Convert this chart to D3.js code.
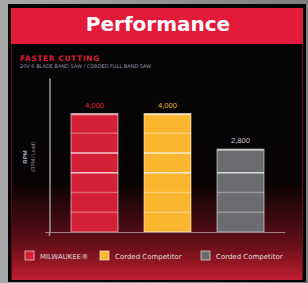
<!DOCTYPE html>
<html>
<head>
<meta charset="utf-8">
<script src="https://cdn.jsdelivr.net/npm/d3@7"></script>
<style>
  body { margin: 0; background: #000; }
  svg { display: block; }
</style>
</head>
<body>
<div id="chart"></div>
<script>
// data
var categories = ["MILWAUKEE®", "Corded Competitor", "Corded Competitor "];
var values = [4000, 4000, 2800];
var valueLabels = ["4,000", "4,000", "2,800"];
var barColors = ["#d42036", "#fbb62f", "#6b6c6f"];
var labelColors = ["#e4263c", "#f2b630", "#c9cdd6"];
var segmentValues = [667, 1333, 2000, 2667, 3333];
var legendLabels = ["MILWAUKEE®", "Corded Competitor", "Corded Competitor"];

var width = 308, height = 283;

var svg = d3.select("#chart")
    .append("svg")
    .attr("width", width)
    .attr("height", height);

var defs = svg.append("defs");

var frameGrad = defs.append("linearGradient")
    .attr("id", "frameGrad")
    .attr("x1", 0).attr("x2", 1).attr("y1", 0).attr("y2", 0);
frameGrad.append("stop").attr("offset", "0%").attr("stop-color", "#a9a9a9");
frameGrad.append("stop").attr("offset", "100%").attr("stop-color", "#7c7c7c");

var bgGrad = defs.append("linearGradient")
    .attr("id", "bgGrad")
    .attr("x1", 0).attr("x2", 0).attr("y1", 0).attr("y2", 1);
bgGrad.append("stop").attr("offset", "0%").attr("stop-color", "#050505");
bgGrad.append("stop").attr("offset", "58%").attr("stop-color", "#070304");
bgGrad.append("stop").attr("offset", "75%").attr("stop-color", "#3f0a10");
bgGrad.append("stop").attr("offset", "86%").attr("stop-color", "#6b1019");
bgGrad.append("stop").attr("offset", "100%").attr("stop-color", "#c21d30");

// outer frame
svg.append("rect")
    .attr("width", width).attr("height", height)
    .attr("fill", "url(#frameGrad)");
svg.append("rect")
    .attr("x", 8).attr("y", 4)
    .attr("width", 298).attr("height", 278)
    .attr("fill", "#050505");

// body
svg.append("rect")
    .attr("x", 11).attr("y", 44)
    .attr("width", 292).attr("height", 236)
    .attr("fill", "url(#bgGrad)");
svg.append("line")
    .attr("x1", 11.5).attr("x2", 11.5)
    .attr("y1", 44).attr("y2", 280)
    .attr("stroke", "#5a0d14").attr("stroke-width", 1);
svg.append("line")
    .attr("x1", 302.5).attr("x2", 302.5)
    .attr("y1", 44).attr("y2", 280)
    .attr("stroke", "#6a0f18").attr("stroke-width", 1);

// header
svg.append("rect")
    .attr("x", 11).attr("y", 8)
    .attr("width", 292).attr("height", 36)
    .attr("fill", "#e31a38");
svg.append("text")
    .attr("x", 158).attr("y", 31)
    .attr("text-anchor", "middle")
    .attr("fill", "#fff")
    .style("font-family", "'DejaVu Sans', sans-serif")
    .style("font-weight", "bold")
    .style("font-size", "20px")
    .text("Performance");

// subtitle
svg.append("text")
    .attr("x", 20).attr("y", 61)
    .attr("fill", "#d61f34")
    .style("font-family", "'DejaVu Sans', sans-serif")
    .style("font-weight", "bold")
    .style("font-size", "7.5px")
    .style("letter-spacing", "0.6px")
    .text("FASTER CUTTING");
svg.append("text")
    .attr("x", 20).attr("y", 68)
    .attr("fill", "#8e96a3")
    .style("font-family", "'DejaVu Sans', sans-serif")
    .style("font-size", "5px")
    .text("20V 6 BLADE BAND SAW / CORDED FULL BAND SAW");

// scales
var x = d3.scaleBand()
    .domain(categories)
    .range([52, 283])
    .paddingInner(0.356)
    .paddingOuter(0.26);

var y = d3.scaleLinear()
    .domain([0, 5200])
    .range([232, 78]);

// y axis (line only)
var yAxis = svg.append("g")
    .attr("transform", "translate(49.5,0)")
    .call(d3.axisLeft(y).ticks(0).tickSizeOuter(0));
yAxis.select(".domain").attr("stroke", "#9a9a9a").attr("stroke-width", 1.5);
svg.append("line")
    .attr("x1", 49.5).attr("x2", 49.5)
    .attr("y1", y(0)).attr("y2", y(0) + 4)
    .attr("stroke", "#9a9a9a").attr("stroke-width", 1.5);

// axis title
var yTitle = svg.append("g")
    .attr("transform", "translate(30,157) rotate(-90)")
    .style("font-family", "Arial, 'Liberation Sans', sans-serif");
yTitle.append("text")
    .attr("x", 0).attr("y", -3)
    .attr("text-anchor", "middle")
    .attr("fill", "#b8bcc6")
    .style("font-size", "6px")
    .style("font-weight", "bold")
    .text("RPM");
yTitle.append("text")
    .attr("x", 0).attr("y", 5)
    .attr("text-anchor", "middle")
    .attr("fill", "#8c93a0")
    .style("font-size", "5px")
    .text("(RPM / Load)");

// bars
var bars = svg.selectAll(".bar")
    .data(values)
    .enter()
    .append("g")
    .attr("class", "bar");

bars.append("rect")
    .attr("x", function (d, i) { return x(categories[i]); })
    .attr("y", function (d) { return y(d); })
    .attr("width", x.bandwidth())
    .attr("height", function (d) { return y(0) - y(d); })
    .attr("fill", function (d, i) { return barColors[i]; })
    .attr("stroke", "rgba(255,255,255,0.55)")
    .attr("stroke-width", 1);

// top highlight
bars.append("line")
    .attr("x1", function (d, i) { return x(categories[i]) + 0.5; })
    .attr("x2", function (d, i) { return x(categories[i]) + x.bandwidth() - 0.5; })
    .attr("y1", function (d) { return y(d) + 1; })
    .attr("y2", function (d) { return y(d) + 1; })
    .attr("stroke", "rgba(255,255,255,0.6)")
    .attr("stroke-width", 1.5);

// segment lines inside each bar
bars.each(function (d, i) {
    var g = d3.select(this);
    var x0 = x(categories[i]);
    g.selectAll(".seg")
        .data(segmentValues.filter(function (s) { return s < d - 150; }))
        .enter()
        .append("line")
        .attr("class", "seg")
        .attr("x1", x0)
        .attr("x2", x0 + x.bandwidth())
        .attr("y1", function (s) { return y(s); })
        .attr("y2", function (s) { return y(s); })
        .attr("stroke", "#fff")
        .attr("stroke-opacity", function (s, j) { return (j === 2 || j === 3) ? 0.75 : 0.3; })
        .attr("stroke-width", 1.5);
});

// value labels
bars.append("text")
    .attr("x", function (d, i) { return x(categories[i]) + x.bandwidth() / 2; })
    .attr("y", function (d) { return y(d) - 6; })
    .attr("text-anchor", "middle")
    .attr("fill", function (d, i) { return labelColors[i]; })
    .style("font-family", "Arial, 'Liberation Sans', sans-serif")
    .style("font-size", "7.5px")
    .text(function (d, i) { return valueLabels[i]; });

// baseline
svg.append("line")
    .attr("x1", 45).attr("x2", 285)
    .attr("y1", y(0) + 0.5).attr("y2", y(0) + 0.5)
    .attr("stroke", "#a58086").attr("stroke-width", 1);

// legend
var legendX = [25, 100, 201];
var legend = svg.selectAll(".legend")
    .data(legendLabels)
    .enter()
    .append("g")
    .attr("class", "legend")
    .attr("transform", function (d, i) { return "translate(" + legendX[i] + ",251)"; });

legend.append("rect")
    .attr("width", 9).attr("height", 9)
    .attr("fill", function (d, i) { return barColors[i]; })
    .attr("stroke", "rgba(255,255,255,0.6)")
    .attr("stroke-width", 1);

legend.append("text")
    .attr("x", 15).attr("y", 7.5)
    .attr("fill", "#dcdcdc")
    .style("font-family", "'DejaVu Sans', sans-serif")
    .style("font-size", "7px")
    .text(function (d) { return d; });
</script>
</body>
</html>
